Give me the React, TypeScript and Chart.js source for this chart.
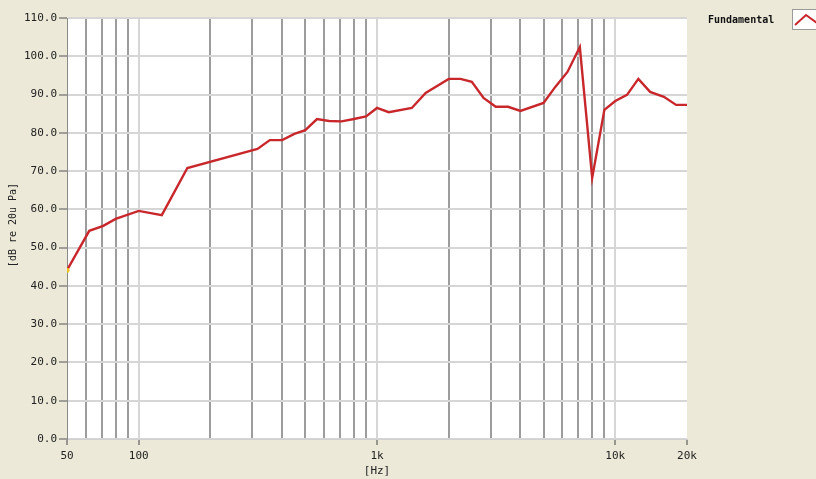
import React, { useEffect, useRef } from "react";
import { Chart, registerables } from "chart.js";

Chart.register(...registerables);

const freqs = [50, 62, 71, 80, 100, 125, 160, 315, 355, 400, 450, 500, 560, 630, 710, 800, 900, 1000, 1120, 1400, 1600, 2000, 2240, 2500, 2800, 3150, 3550, 4000, 5000, 5600, 6300, 7100, 8000, 9000, 10000, 11200, 12500, 14000, 16000, 18000, 20000];
const levels = [44.1, 54.4, 55.7, 57.5, 59.6, 58.5, 70.8, 75.8, 78.1, 78.1, 79.7, 80.7, 83.6, 83.1, 83.0, 83.6, 84.3, 86.5, 85.4, 86.5, 90.4, 94.1, 94.1, 93.3, 89.1, 86.8, 86.8, 85.7, 87.8, 92.0, 95.9, 102.4, 68.2, 86.0, 88.3, 89.9, 94.1, 90.7, 89.4, 87.3, 87.3];

const xGridValues = [50, 60, 70, 80, 90, 100, 200, 300, 400, 500, 600, 700, 800, 900, 1000, 2000, 3000, 4000, 5000, 6000, 7000, 8000, 9000, 10000, 20000];
const xLabelMap: Record<number, string> = { 50: "50", 100: "100", 1000: "1k", 10000: "10k", 20000: "20k" };
const majorX = [100, 1000, 10000];

const seriesName = "Fundamental";
const xTitle = "[Hz]";
const yTitle = "[dB re 20u Pa]";

const FONT = "'DejaVu Sans Mono', monospace";
const BG = "#ECE9D8";
const RED = "#c8282c";

export default function App() {
  const ref = useRef<HTMLCanvasElement | null>(null);

  useEffect(() => {
    if (!ref.current) return;
    const deco = {
      id: "deco",
      beforeDraw(chart: any) {
        const { ctx, chartArea: a } = chart;
        ctx.save();
        ctx.fillStyle = BG;
        ctx.fillRect(0, 0, chart.width, chart.height);
        ctx.fillStyle = "#ffffff";
        ctx.fillRect(a.left, a.top, a.right - a.left, a.bottom - a.top);
        ctx.restore();
      },
      afterDraw(chart: any) {
        const { ctx, chartArea: a } = chart;
        ctx.save();
        ctx.fillStyle = "#222";
        ctx.font = `11px ${FONT}`;
        ctx.textAlign = "center";
        ctx.textBaseline = "middle";
        ctx.fillText(xTitle, (a.left + a.right) / 2, 471);
        ctx.save();
        ctx.translate(13, 225);
        ctx.rotate(-Math.PI / 2);
        ctx.font = `10px ${FONT}`;
        ctx.fillText(yTitle, 0, 0);
        ctx.restore();
        // legend
        ctx.font = `bold 10px ${FONT}`;
        ctx.textAlign = "left";
        ctx.fillStyle = "#111";
        ctx.fillText(seriesName, 708, 20);
        ctx.fillStyle = "#ffffff";
        ctx.fillRect(792, 9, 30, 20);
        ctx.strokeStyle = "#9a9a9a";
        ctx.lineWidth = 1;
        ctx.strokeRect(792.5, 9.5, 30, 20);
        ctx.strokeStyle = RED;
        ctx.lineWidth = 2;
        ctx.beginPath();
        ctx.moveTo(795, 25);
        ctx.lineTo(806, 15);
        ctx.lineTo(817, 23);
        ctx.stroke();
        ctx.restore();
      },
    };

    const chart = new Chart(ref.current, {
      type: "line",
      data: {
        datasets: [
          {
            label: seriesName,
            data: freqs.map((f, i) => ({ x: f, y: levels[i] })),
            borderColor: RED,
            borderWidth: 2.4,
            pointRadius: (c: any) => (c.dataIndex === 0 ? 2.5 : 0),
            pointBackgroundColor: "#f0c020",
            pointBorderWidth: 0,
            tension: 0,
          },
        ],
      },
      options: {
        responsive: false,
        animation: false,
        layout: { padding: { left: 0, top: 18, right: 129, bottom: 0 } },
        plugins: { legend: { display: false }, tooltip: { enabled: false } },
        scales: {
          x: {
            type: "logarithmic",
            min: 50,
            max: 20000,
            afterBuildTicks: (s: any) => {
              s.ticks = xGridValues.map((v) => ({ value: v }));
            },
            afterFit: (s: any) => {
              s.height = 40;
            },
            ticks: {
              autoSkip: false,
              maxRotation: 0,
              padding: 5,
              color: "#222",
              font: { family: FONT, size: 11 },
              callback: (v: any) => xLabelMap[Number(v)] ?? "",
            },
            grid: {
              color: (c: any) => {
                const v = c.tick?.value;
                if (v === 50 || v === 20000) return "rgba(0,0,0,0)";
                return majorX.includes(v) ? "#d6d6d6" : "#9c9c9c";
              },
              lineWidth: 2,
              tickLength: 6,
              tickWidth: 1,
              tickColor: (c: any) => (xLabelMap[c.tick?.value] ? "#444" : "rgba(0,0,0,0)"),
            },
            border: { display: true, color: "#d0d0d0", width: 1 },
          },
          y: {
            min: 0,
            max: 110,
            afterFit: (s: any) => {
              s.width = 67;
            },
            ticks: {
              stepSize: 10,
              padding: 2,
              color: "#222",
              font: { family: FONT, size: 11 },
              callback: (v: any) => Number(v).toFixed(1),
            },
            grid: {
              color: "#d6d6d6",
              lineWidth: 2,
              tickLength: 8,
              tickWidth: 1,
              tickColor: "#555",
            },
            border: { display: true, color: "#8a8a8a", width: 1 },
          },
        },
      },
      plugins: [deco],
    } as any);
    return () => chart.destroy();
  }, []);

  return (
    <div style={{ position: "fixed", left: 0, top: 0, width: 816, height: 479, background: BG }}>
      <canvas ref={ref} width={816} height={479} style={{ display: "block" }} />
    </div>
  );
}
